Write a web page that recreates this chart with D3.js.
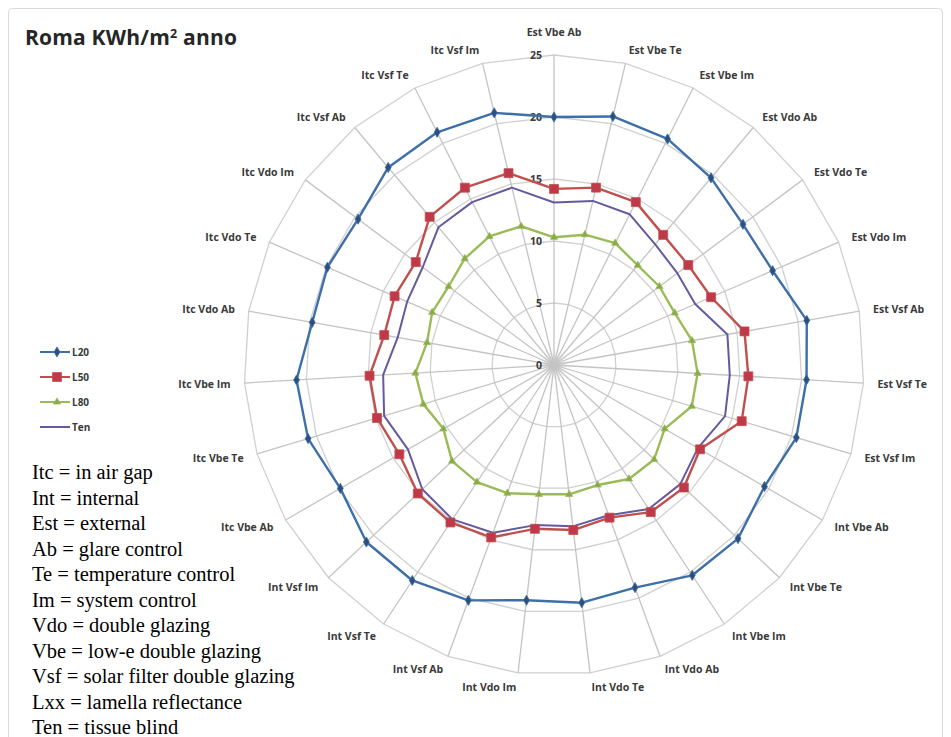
<!DOCTYPE html>
<html>
<head>
<meta charset="utf-8">
<script src="https://cdn.jsdelivr.net/npm/d3@7"></script>
<style>
  html, body { margin: 0; padding: 0; background: #fff; }
  svg { display: block; }
</style>
</head>
<body>
<svg id="chart" width="951" height="737"></svg>
<script>
// Spoke categories: position / glazing / control strategy
const categories = [
  "Est Vbe Ab", "Est Vbe Te", "Est Vbe Im",
  "Est Vdo Ab", "Est Vdo Te", "Est Vdo Im",
  "Est Vsf Ab", "Est Vsf Te", "Est Vsf Im",
  "Int Vbe Ab", "Int Vbe Te", "Int Vbe Im",
  "Int Vdo Ab", "Int Vdo Te", "Int Vdo Im",
  "Int Vsf Ab", "Int Vsf Te", "Int Vsf Im",
  "Itc Vbe Ab", "Itc Vbe Te", "Itc Vbe Im",
  "Itc Vdo Ab", "Itc Vdo Te", "Itc Vdo Im",
  "Itc Vsf Ab", "Itc Vsf Te", "Itc Vsf Im"
];

// Annual energy, KWh/m2
const L20 = [20.0, 20.6, 20.4, 19.7, 19.0, 19.2, 20.7, 20.4, 20.4,
             19.6, 20.4, 20.3, 19.1, 19.3, 19.1, 20.2, 20.8, 20.8,
             19.9, 20.7, 20.8, 19.8, 19.9, 19.7, 20.8, 21.0, 20.9];
const L50 = [14.2, 14.7, 14.7, 13.7, 13.5, 13.8, 15.6, 15.7, 15.8,
             13.6, 14.4, 14.2, 13.1, 13.4, 13.3, 14.8, 15.2, 15.1,
             14.4, 14.9, 14.9, 13.9, 14.0, 13.9, 15.6, 16.0, 15.9];
const L80 = [10.3, 10.8, 11.0, 10.5, 10.6, 10.6, 11.3, 11.6, 11.6,
             10.3, 11.1, 11.0, 10.3, 10.5, 10.5, 11.0, 11.3, 11.3,
             10.3, 11.0, 11.2, 10.4, 10.7, 10.6, 11.2, 11.6, 11.5];
const Ten = [13.1, 13.6, 13.6, 12.7, 12.4, 12.4, 14.2, 14.2, 14.4,
             13.4, 14.0, 13.9, 12.9, 13.1, 13.0, 14.4, 14.9, 14.6,
             13.6, 14.3, 13.8, 12.8, 12.9, 13.2, 14.5, 14.7, 14.7];

const seriesNames = ["L20", "L50", "L80", "Ten"];
const seriesValues = [L20, L50, L80, Ten];
const radialTicks = [0, 5, 10, 15, 20, 25];

const legendNotes = [
  "Itc = in air gap",
  "Int = internal",
  "Est = external",
  "Ab = glare control",
  "Te = temperature control",
  "Im = system control",
  "Vdo = double glazing",
  "Vbe = low-e double glazing",
  "Vsf = solar filter double glazing",
  "Lxx = lamella reflectance",
  "Ten = tissue blind"
];

const styles = {
  L20: { color: "#3d6fa8", marker: "diamond", size: 30, mfill: "#2c4f7c" },
  L50: { color: "#c0504d", marker: "square",  size: 80, mfill: "#c0394a" },
  L80: { color: "#9bbb59", marker: "triangle", size: 22, mfill: "#8aaa48" },
  Ten: { color: "#66599e", marker: null }
};

const svg = d3.select("#chart");
const W = 951, H = 737;

// chart area frame
svg.append("rect")
  .attr("x", 8.5).attr("y", 8.5)
  .attr("width", W - 17).attr("height", H + 20)
  .attr("rx", 4)
  .attr("fill", "#fff").attr("stroke", "#d9d9d9");

// title
const title = svg.append("text")
  .attr("x", 25).attr("y", 45)
  .attr("font-family", "'Open Sans', sans-serif")
  .attr("font-weight", "bold").attr("font-size", 21)
  .attr("fill", "#262626")
  .attr("letter-spacing", 0.2);
title.append("tspan").text("Roma KWh/m");
title.append("tspan").attr("font-size", 12.5).attr("dy", -7).text("2");
title.append("tspan").attr("dy", 7).text(" anno");

const cx = 554, cy = 365, R = 310;
const r = d3.scaleLinear().domain([0, 25]).range([0, R]);
const angle = d3.scaleLinear().domain([0, categories.length]).range([0, 2 * Math.PI]);

const g = svg.append("g").attr("transform", `translate(${cx},${cy})`);

// soft hub where spokes converge
const defs = svg.append("defs");
const rg = defs.append("radialGradient").attr("id", "hub");
rg.append("stop").attr("offset", "0%").attr("stop-color", "#bdbdbd").attr("stop-opacity", 0.9);
rg.append("stop").attr("offset", "100%").attr("stop-color", "#e8e8e8").attr("stop-opacity", 0);
g.append("circle").attr("r", 16).attr("fill", "url(#hub)");

// polygon gridlines
const ringLine = d3.lineRadial()
  .angle((d, i) => angle(i))
  .radius(d => r(d))
  .curve(d3.curveLinearClosed);

g.selectAll(".ring")
  .data(radialTicks.filter(t => t > 0))
  .join("path")
  .attr("class", "ring")
  .attr("d", t => ringLine(categories.map(() => t)))
  .attr("fill", "none")
  .attr("stroke", "#d0d0d0")
  .attr("stroke-width", 1.3);

// spokes
g.selectAll(".spoke")
  .data(categories)
  .join("line")
  .attr("class", "spoke")
  .attr("x1", 0).attr("y1", 0)
  .attr("x2", (d, i) => r(25) * Math.sin(angle(i)))
  .attr("y2", (d, i) => -r(25) * Math.cos(angle(i)))
  .attr("stroke", "#c4c4c4")
  .attr("stroke-width", 1.3);

// category labels
g.selectAll(".cat")
  .data(categories)
  .join("text")
  .attr("class", "cat")
  .each(function (d, i) {
    const a = angle(i);
    const s = Math.sin(a), c = Math.cos(a);
    const rr = r(25) + 14;
    let x = rr * s, y = -rr * c;
    if (i === 0) y -= 9;
    const anchor = s > 0.05 ? "start" : (s < -0.05 ? "end" : "middle");
    d3.select(this)
      .attr("x", x).attr("y", y)
      .attr("text-anchor", anchor)
      .attr("dominant-baseline", "central");
  })
  .attr("font-family", "'Open Sans', sans-serif")
  .attr("font-size", 10.5)
  .attr("font-weight", "bold")
  .attr("fill", "#3a3a3a")
  .text(d => d);

// radial value labels along the top spoke
g.selectAll(".tick")
  .data(radialTicks)
  .join("text")
  .attr("class", "tick")
  .attr("x", -12)
  .attr("y", t => -r(t))
  .attr("text-anchor", "end")
  .attr("dominant-baseline", "central")
  .attr("font-family", "'Open Sans', sans-serif")
  .attr("font-size", 10.5)
  .attr("font-weight", "bold")
  .attr("fill", "#3a3a3a")
  .text(t => t);

// series
const seriesLine = d3.lineRadial()
  .angle((d, i) => angle(i))
  .radius(d => r(d))
  .curve(d3.curveLinearClosed);

const symbolType = { diamond: d3.symbolDiamond, square: d3.symbolSquare, triangle: d3.symbolTriangle };

// draw order: L80, L20, Ten, L50 so red stays on top of the purple line
const order = ["L80", "L20", "Ten", "L50"];
order.forEach(name => {
  const vals = seriesValues[seriesNames.indexOf(name)];
  const st = styles[name];
  g.append("path")
    .attr("d", seriesLine(vals))
    .attr("fill", "none")
    .attr("stroke", st.color)
    .attr("stroke-width", name === "Ten" ? 2 : 2.4)
    .attr("stroke-linejoin", "round");
  if (st.marker) {
    g.selectAll(null)
      .data(vals)
      .join("path")
      .attr("transform", (d, i) => {
        const a = angle(i);
        return `translate(${r(d) * Math.sin(a)},${-r(d) * Math.cos(a)})`;
      })
      .attr("d", d3.symbol().type(symbolType[st.marker]).size(st.size))
      .attr("fill", st.mfill)
      .attr("stroke", st.color)
      .attr("stroke-width", 0.8);
  }
});

// legend
const legend = svg.append("g").attr("transform", "translate(40,352)");
seriesNames.forEach((name, k) => {
  const st = styles[name];
  const row = legend.append("g").attr("transform", `translate(0,${k * 25})`);
  row.append("line").attr("x1", 0).attr("x2", 30).attr("y1", 0).attr("y2", 0)
    .attr("stroke", st.color).attr("stroke-width", 2);
  if (st.marker) {
    row.append("path")
      .attr("transform", "translate(17,0)")
      .attr("d", d3.symbol().type(symbolType[st.marker]).size(st.size))
      .attr("fill", st.mfill).attr("stroke", st.color).attr("stroke-width", 0.8);
  }
  row.append("text")
    .attr("x", 32).attr("y", 0)
    .attr("dominant-baseline", "central")
    .attr("font-family", "'Open Sans', sans-serif")
    .attr("font-size", 10).attr("font-weight", "bold")
    .attr("fill", "#3a3a3a")
    .text(name);
});

// abbreviation notes
svg.append("g")
  .selectAll("text")
  .data(legendNotes)
  .join("text")
  .attr("x", 32)
  .attr("y", (d, i) => 479 + i * 25.5)
  .attr("font-family", "'Liberation Serif', 'Times New Roman', serif")
  .attr("font-size", 20.5)
  .attr("fill", "#000")
  .text(d => d);
</script>
</body>
</html>
